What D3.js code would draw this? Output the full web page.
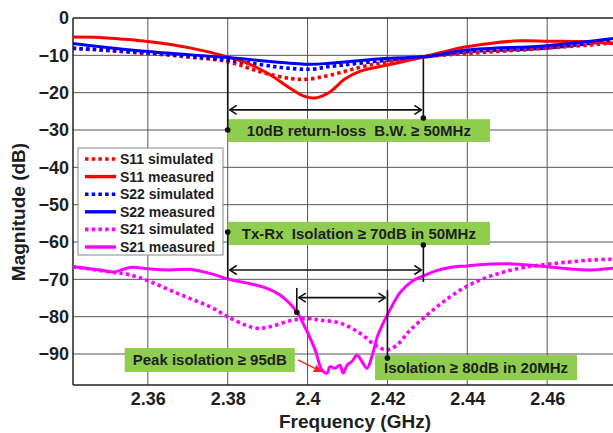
<!DOCTYPE html>
<html>
<head>
<meta charset="utf-8">
<script src="https://cdn.jsdelivr.net/npm/d3@7/dist/d3.min.js"></script>
<style>
	body { margin: 0; background: #fff; }
	svg text { font-family: Arial, "Liberation Sans", sans-serif; font-weight: bold; fill: #1e1e1e; }
</style>
</head>
<body>
<svg id="chart" width="613" height="433"></svg>
<script>
// frequencies in GHz, magnitudes in dB
const s11SimFreq = [2.3412, 2.36, 2.3705, 2.38, 2.3881, 2.3956, 2.40, 2.4056, 2.4156, 2.4292, 2.44, 2.46, 2.4765];
const s11SimDb   = [-8.1, -9.5, -10.5, -11.7, -14.4, -16.2, -16.4, -15.3, -12.6, -10.4, -9.5, -8.1, -6.7];

const s11MeasFreq = [2.3412, 2.348, 2.353, 2.36, 2.3705, 2.38, 2.3856, 2.3906, 2.3956, 2.3993, 2.4019, 2.4056, 2.4094, 2.4131, 2.42, 2.4292, 2.4382, 2.4457, 2.4532, 2.46, 2.4683, 2.4765];
const s11MeasDb   = [-5.1, -5.2, -5.6, -6.3, -8.0, -10.4, -12.4, -15.2, -18.8, -21.0, -21.4, -19.8, -16.3, -14.3, -12.6, -10.4, -8.0, -6.8, -6.1, -6.2, -6.3, -6.8];

const s22SimFreq = [2.3412, 2.36, 2.38, 2.3956, 2.4011, 2.4056, 2.42, 2.4292, 2.44, 2.46, 2.4765];
const s22SimDb   = [-8.1, -9.3, -11.3, -13.5, -13.7, -13.0, -11.3, -10.4, -9.0, -8.0, -6.0];

const s22MeasFreq = [2.3412, 2.36, 2.38, 2.3956, 2.4011, 2.4056, 2.42, 2.4292, 2.44, 2.46, 2.4765];
const s22MeasDb   = [-6.8, -9.0, -10.6, -12.1, -12.4, -12.1, -10.8, -10.4, -8.6, -7.4, -5.5];

const s21SimFreq = [2.3412, 2.3505, 2.3555, 2.3605, 2.3655, 2.3705, 2.3755, 2.38, 2.3843, 2.3873, 2.3906, 2.3956, 2.40, 2.4031, 2.4081, 2.4131, 2.4169, 2.4199, 2.4224, 2.4257, 2.4299, 2.4339, 2.4382, 2.4432, 2.4482, 2.4532, 2.4582, 2.465, 2.4715, 2.4765];
const s21SimDb   = [-66.6, -68.0, -68.8, -70.6, -72.9, -75.1, -77.3, -80.0, -82.2, -83.1, -82.7, -81.1, -80.5, -80.9, -81.7, -84.4, -87.6, -88.9, -87.6, -83.6, -79.6, -76.1, -72.9, -70.2, -68.3, -67.0, -66.2, -65.4, -64.8, -64.6];

const s21MeasFreq = [2.3412, 2.348, 2.3517, 2.3555, 2.36, 2.3655, 2.3705, 2.3755, 2.38, 2.3856, 2.3893, 2.3931, 2.3973, 2.3993, 2.4019, 2.4036, 2.4049, 2.4056, 2.4069, 2.4081, 2.4089, 2.4099, 2.4111, 2.4124, 2.4136, 2.4149, 2.4161, 2.4176, 2.42, 2.4232, 2.4262, 2.4292, 2.4319, 2.4357, 2.44, 2.4457, 2.4495, 2.4532, 2.46, 2.4658, 2.47, 2.4765];
const s21MeasDb   = [-66.6, -67.5, -68.0, -66.8, -67.2, -67.5, -67.3, -68.4, -69.9, -71.2, -72.2, -74.2, -78.7, -82.7, -88.9, -94.3, -95.1, -93.4, -93.8, -93.0, -95.1, -93.0, -92.0, -90.3, -92.0, -93.8, -90.7, -85.0, -79.5, -73.5, -70.5, -69.0, -67.8, -66.8, -66.4, -65.9, -65.8, -66.0, -66.6, -67.2, -67.5, -67.0];

const xTicks = [2.36, 2.38, 2.40, 2.42, 2.44, 2.46];
const xTickLabels = ["2.36", "2.38", "2.4", "2.42", "2.44", "2.46"];
const yTicks = [0, -10, -20, -30, -40, -50, -60, -70, -80, -90];

// marker bands (GHz)
const returnLossBand = [2.38, 2.429];
const isolation70Band = [2.38, 2.429];
const isolation80Band = [2.3973, 2.42];

const svg = d3.select("#chart"),
  plotLeft = 73, plotTop = 18, plotRight = 627, plotBottom = 385;

const x = d3.scaleLinear().domain([2.34125, 2.48]).range([plotLeft, plotRight]);
const y = d3.scaleLinear().domain([0, -98.3]).range([plotTop, plotBottom]);

const defs = svg.append("defs");
defs.append("clipPath").attr("id", "plotclip")
  .append("rect").attr("x", plotLeft).attr("y", plotTop)
  .attr("width", plotRight - plotLeft).attr("height", plotBottom - plotTop);

defs.append("marker")
  .attr("id", "head")
  .attr("viewBox", "-9 -6 10 12")
  .attr("refX", 0).attr("refY", 0)
  .attr("markerWidth", 10).attr("markerHeight", 12)
  .attr("markerUnits", "userSpaceOnUse")
  .attr("orient", "auto-start-reverse")
  .append("path")
  .attr("d", "M-7,-4.5 L0,0 L-7,4.5")
  .attr("fill", "none").attr("stroke", "#111").attr("stroke-width", 1.6);
defs.append("marker")
  .attr("id", "redhead")
  .attr("viewBox", "-10 -5 11 10")
  .attr("refX", 0).attr("refY", 0)
  .attr("markerWidth", 11).attr("markerHeight", 10)
  .attr("markerUnits", "userSpaceOnUse")
  .attr("orient", "auto")
  .append("path")
  .attr("d", "M-8,-4 L0,0 L-8,4 Z")
  .attr("fill", "#f22");

// grid
const grid = svg.append("g");
grid.selectAll(".hg").data(yTicks.slice(1)).enter().append("line")
  .attr("x1", plotLeft).attr("x2", plotRight)
  .attr("y1", d => y(d)).attr("y2", d => y(d))
  .attr("stroke", "#555").attr("stroke-width", 1);
grid.selectAll(".vg").data(xTicks).enter().append("line")
  .attr("x1", d => x(d)).attr("x2", d => x(d))
  .attr("y1", plotTop).attr("y2", plotBottom)
  .attr("stroke", "#555").attr("stroke-width", 1);

// frame
svg.append("line").attr("x1", plotLeft).attr("x2", plotRight).attr("y1", plotTop).attr("y2", plotTop)
  .attr("stroke", "#222").attr("stroke-width", 1.5);
svg.append("line").attr("x1", plotLeft).attr("x2", plotRight).attr("y1", plotBottom).attr("y2", plotBottom)
  .attr("stroke", "#222").attr("stroke-width", 1.5);
svg.append("line").attr("x1", plotLeft).attr("x2", plotLeft).attr("y1", plotTop).attr("y2", plotBottom)
  .attr("stroke", "#222").attr("stroke-width", 1.5);

// axes
const xAxis = svg.append("g")
  .attr("transform", "translate(0," + plotBottom + ")")
  .call(d3.axisBottom(x).tickValues(xTicks).tickFormat((d, i) => xTickLabels[i]).tickSize(0).tickPadding(7));
xAxis.select(".domain").remove();
xAxis.attr("font-family", null).attr("font-size", null);
xAxis.selectAll("text").attr("font-size", 18);

const yAxis = svg.append("g")
  .attr("transform", "translate(" + plotLeft + ",0)")
  .call(d3.axisLeft(y).tickValues(yTicks).tickFormat(d3.format("d")).tickSize(0).tickPadding(4));
yAxis.select(".domain").remove();
yAxis.attr("font-family", null).attr("font-size", null);
yAxis.selectAll("text").attr("font-size", 18);

svg.append("text")
  .attr("x", 355).attr("y", 428)
  .attr("text-anchor", "middle")
  .attr("font-size", 19)
  .text("Frequency (GHz)");

svg.append("text")
  .attr("transform", "translate(25,212) rotate(-90)")
  .attr("text-anchor", "middle")
  .attr("font-size", 19)
  .text("Magnitude (dB)");

// curves
const series = [
	{ name: "S11 simulated", f: s11SimFreq, db: s11SimDb, color: "#ff0000", dotted: true },
	{ name: "S11 measured", f: s11MeasFreq, db: s11MeasDb, color: "#ff0000", dotted: false },
	{ name: "S22 simulated", f: s22SimFreq, db: s22SimDb, color: "#0000ff", dotted: true },
	{ name: "S22 measured", f: s22MeasFreq, db: s22MeasDb, color: "#0000ff", dotted: false },
	{ name: "S21 simulated", f: s21SimFreq, db: s21SimDb, color: "#ff00ff", dotted: true },
	{ name: "S21 measured", f: s21MeasFreq, db: s21MeasDb, color: "#ff00ff", dotted: false }
];

const line = d3.line()
  .x(d => x(d[0]))
  .y(d => y(d[1]))
  .curve(d3.curveCatmullRom.alpha(0.5));

const drawOrder = [0, 2, 1, 3, 4, 5];
const curves = svg.append("g").attr("clip-path", "url(#plotclip)");
drawOrder.forEach(function(i) {
	const s = series[i];
	curves.append("path")
	  .datum(s.f.map((f, k) => [f, s.db[k]]))
	  .attr("d", line)
	  .attr("fill", "none")
	  .attr("stroke", s.color)
	  .attr("stroke-width", s.dotted ? 3.6 : 3)
	  .attr("stroke-dasharray", s.dotted ? "3.5,3.2" : null)
	  .attr("stroke-linejoin", "round");
});

// annotations
const ann = svg.append("g");

function vmark(f, dbFrom, dbDot) {
	ann.append("line")
	  .attr("x1", x(f)).attr("x2", x(f))
	  .attr("y1", y(dbFrom)).attr("y2", y(dbDot))
	  .attr("stroke", "#111").attr("stroke-width", 1.6);
	ann.append("circle")
	  .attr("cx", x(f)).attr("cy", y(dbDot)).attr("r", 2.8)
	  .attr("fill", "#111");
}

function harrow(band, db) {
	ann.append("line")
	  .attr("x1", x(band[0]) + 2).attr("x2", x(band[1]) - 2)
	  .attr("y1", y(db)).attr("y2", y(db))
	  .attr("stroke", "#111").attr("stroke-width", 1.6)
	  .attr("marker-start", "url(#head)")
	  .attr("marker-end", "url(#head)");
}

function label(f0, f1, dbTop, dbBottom, txt) {
	ann.append("rect")
	  .attr("x", x(f0)).attr("y", y(dbTop))
	  .attr("width", x(f1) - x(f0)).attr("height", y(dbBottom) - y(dbTop))
	  .attr("fill", "#8fcd4e");
	ann.append("text")
	  .attr("x", (x(f0) + x(f1)) / 2)
	  .attr("y", (y(dbTop) + y(dbBottom)) / 2)
	  .attr("dy", "0.36em")
	  .attr("text-anchor", "middle")
	  .attr("font-size", 15)
	  .style("white-space", "pre")
	  .text(txt);
}

// 10 dB return loss
label(2.38, 2.4457, -27.1, -33.2, "10dB return-loss  B.W. \u2265 50MHz");
vmark(returnLossBand[0], -10.4, -30);
vmark(returnLossBand[1], -10.4, -26.8);
harrow(returnLossBand, -24.6);

// Tx-Rx isolation
label(2.38, 2.4457, -54.6, -60.8, "Tx-Rx  Isolation \u2265 70dB in 50MHz");
vmark(isolation70Band[0], -69.9, -57.3);
vmark(isolation70Band[1], -70.7, -60.8);
harrow(isolation70Band, -67.5);

// 80 dB isolation
label(2.4169, 2.4675, -90.3, -97.0, "Isolation \u2265 80dB in 20MHz");
vmark(isolation80Band[0], -72.3, -78.8);
vmark(isolation80Band[1], -72.9, -91.1);
harrow(isolation80Band, -74.9);

// peak isolation
label(2.3542, 2.3968, -88.4, -94.8, "Peak isolation \u2265 95dB");
ann.append("line")
  .attr("x1", x(2.3976)).attr("y1", y(-91.6))
  .attr("x2", x(2.4036)).attr("y2", y(-94.8))
  .attr("stroke", "#f22").attr("stroke-width", 1.4)
  .attr("marker-end", "url(#redhead)");

// legend
const legend = svg.append("g").attr("transform", "translate(78,148)");
legend.append("rect")
  .attr("width", 145).attr("height", 107)
  .attr("fill", "#fff").attr("stroke", "#888").attr("stroke-width", 1);
const rows = legend.selectAll(".row").data(series).enter().append("g")
  .attr("transform", (d, i) => "translate(0," + (11 + i * 17.6) + ")");
rows.append("line")
  .attr("x1", 7).attr("x2", 38)
  .attr("stroke", d => d.color)
  .attr("stroke-width", d => d.dotted ? 3.6 : 3.4)
  .attr("stroke-dasharray", d => d.dotted ? "3.5,3.2" : null);
rows.append("text")
  .attr("x", 42).attr("dy", "0.36em")
  .attr("font-size", 14)
  .text(d => d.name);
</script>
</body>
</html>
